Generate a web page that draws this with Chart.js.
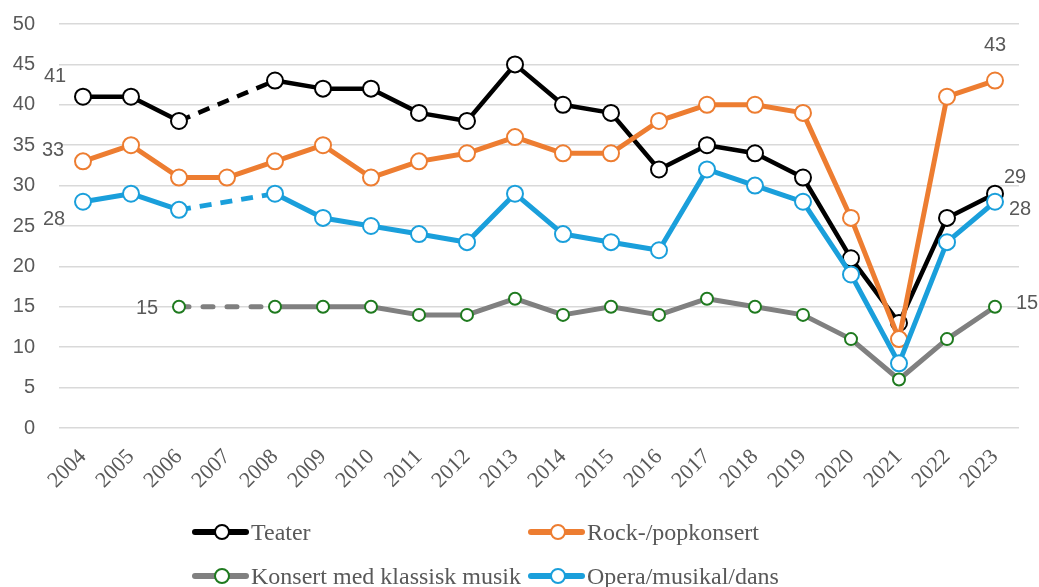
<!DOCTYPE html>
<html>
<head>
<meta charset="utf-8">
<script src="https://cdn.jsdelivr.net/npm/chart.js@4.4.1/dist/chart.umd.min.js"></script>
<style>
  body { margin: 0; background: #fff; }
  #wrap { position: relative; width: 1039px; height: 587px; }
  #legend { position: absolute; left: 0; top: 0; width: 1039px; height: 587px; pointer-events: none;
            font-family: "Liberation Serif", "Times New Roman", serif; font-size: 24px; color: #595959; }
  .item { position: absolute; display: flex; align-items: center; white-space: nowrap; }
  .mark { position: relative; width: 57px; height: 18px; margin-right: 2px; }
  .mark .ln { position: absolute; left: 0; right: 0; top: 6px; height: 6px; border-radius: 3px; }
  .mark .dot { position: absolute; left: 22px; top: 1px; width: 12px; height: 12px; border-radius: 50%;
               background: #fff; border: 2px solid; }
</style>
</head>
<body>
<div id="wrap">
  <canvas id="chart" width="1039" height="587"></canvas>
  <div id="legend"></div>
</div>
<script>
// data
const years = ['2004','2005','2006','2007','2008','2009','2010','2011','2012','2013',
               '2014','2015','2016','2017','2018','2019','2020','2021','2022','2023'];
const teater   = [41, 41, 38, null, 43, 42, 42, 39, 38, 45, 40, 39, 32, 35, 34, 31, 21, 13, 26, 29];
const rockPop  = [33, 35, 31, 31, 33, 35, 31, 33, 34, 36, 34, 34, 38, 40, 40, 39, 26, 11, 41, 43];
const klassisk = [null, null, 15, null, 15, 15, 15, 14, 14, 16, 14, 15, 14, 16, 15, 14, 11, 6, 11, 15];
const opera    = [28, 29, 27, null, 29, 26, 25, 24, 23, 29, 24, 23, 22, 32, 30, 28, 19, 8, 23, 28];
const yTicks   = [0, 5, 10, 15, 20, 25, 30, 35, 40, 45, 50];

// which points carry a value label, and where the text sits relative to the point
const labelSpots = [
  { ds: 0, i: 0,  dx: -28, dy: -20 },
  { ds: 1, i: 0,  dx: -30, dy: -11 },
  { ds: 3, i: 0,  dx: -29, dy: 18 },
  { ds: 2, i: 2,  dx: -32, dy: 2 },
  { ds: 0, i: 19, dx: 20,  dy: -16 },
  { ds: 1, i: 19, dx: 0,   dy: -35 },
  { ds: 3, i: 19, dx: 25,  dy: 8 },
  { ds: 2, i: 19, dx: 32,  dy: -3 }
];

const GREY_TEXT = '#595959';

// dashed line across a missing year
function gapDash(dash) {
  return { borderDash: ctx => (ctx.p0.skip || ctx.p1.skip ? dash : undefined) };
}

function series(label, data, color, opts) {
  return Object.assign({
    label: label,
    data: data,
    borderColor: color,
    backgroundColor: color,
    pointBackgroundColor: '#fff',
    pointBorderColor: color,
    pointBorderWidth: 2,
    pointRadius: 8,
    pointHoverRadius: 8,
    borderWidth: 5,
    borderJoinStyle: 'round',
    spanGaps: true,
    tension: 0
  }, opts);
}

const valueLabels = {
  id: 'valueLabels',
  afterDatasetsDraw(chart) {
    const ctx = chart.ctx;
    ctx.save();
    ctx.font = '20px "Liberation Sans", Arial, sans-serif';
    ctx.fillStyle = GREY_TEXT;
    ctx.textAlign = 'center';
    ctx.textBaseline = 'middle';
    labelSpots.forEach(s => {
      const pt = chart.getDatasetMeta(s.ds).data[s.i];
      const v = chart.data.datasets[s.ds].data[s.i];
      ctx.fillText(String(v), pt.x + s.dx, pt.y + s.dy);
    });
    ctx.restore();
  }
};

const chart = new Chart(document.getElementById('chart'), {
  type: 'line',
  data: {
    labels: years,
    datasets: [
      series('Teater', teater, '#000000', { order: 3, borderWidth: 4.5, segment: gapDash([12, 9]) }),
      series('Rock-/popkonsert', rockPop, '#ED7D31', { order: 2 }),
      series('Konsert med klassisk musik', klassisk, '#808080', {
        order: 1, pointRadius: 6, pointHoverRadius: 6, pointBorderColor: '#1F7A1F',
        borderCapStyle: 'round', segment: gapDash([10, 14])
      }),
      series('Opera/musikal/dans', opera, '#1A9FDB', { order: 0, segment: gapDash([12, 9]) })
    ]
  },
  options: {
    responsive: false,
    animation: false,
    layout: { padding: { top: 24, right: 20, left: 0, bottom: 0 } },
    plugins: { legend: { display: false }, tooltip: { enabled: false } },
    scales: {
      x: {
        offset: true,
        grid: { display: false },
        border: { display: false },
        ticks: {
          autoSkip: false, minRotation: 45, maxRotation: 45, padding: 8,
          color: GREY_TEXT, font: { family: '"Liberation Serif", "Times New Roman", serif', size: 22 }
        },
        afterFit: s => { s.height = 159; }
      },
      y: {
        min: 0, max: 50,
        afterBuildTicks: s => { s.ticks = yTicks.map(v => ({ value: v })); },
        grid: { color: '#D9D9D9', lineWidth: 1.5, drawTicks: false },
        border: { display: false },
        ticks: {
          padding: 24, color: GREY_TEXT,
          font: { family: '"Liberation Sans", Arial, sans-serif', size: 20 }
        },
        // tick padding is only meant sideways here
        afterFit: s => { s.width = 59; s.paddingTop = 0; s.paddingBottom = 0; }
      }
    }
  },
  plugins: [valueLabels]
});

// legend laid out as a two-column grid like the reference
const legendPos = [
  { ds: 0, left: 192, top: 533 },
  { ds: 1, left: 528, top: 533 },
  { ds: 2, left: 192, top: 577 },
  { ds: 3, left: 528, top: 577 }
];
const legend = document.getElementById('legend');
legendPos.forEach(p => {
  const d = chart.data.datasets[p.ds];
  const item = document.createElement('div');
  item.className = 'item';
  item.style.left = p.left + 'px';
  item.style.top = (p.top - 15) + 'px';
  item.style.height = '28px';
  item.innerHTML = '<span class="mark"><span class="ln" style="background:' + d.borderColor + '"></span>' +
    '<span class="dot" style="border-color:' + d.pointBorderColor + '"></span></span>' +
    '<span>' + d.label + '</span>';
  legend.appendChild(item);
});
</script>
</body>
</html>
